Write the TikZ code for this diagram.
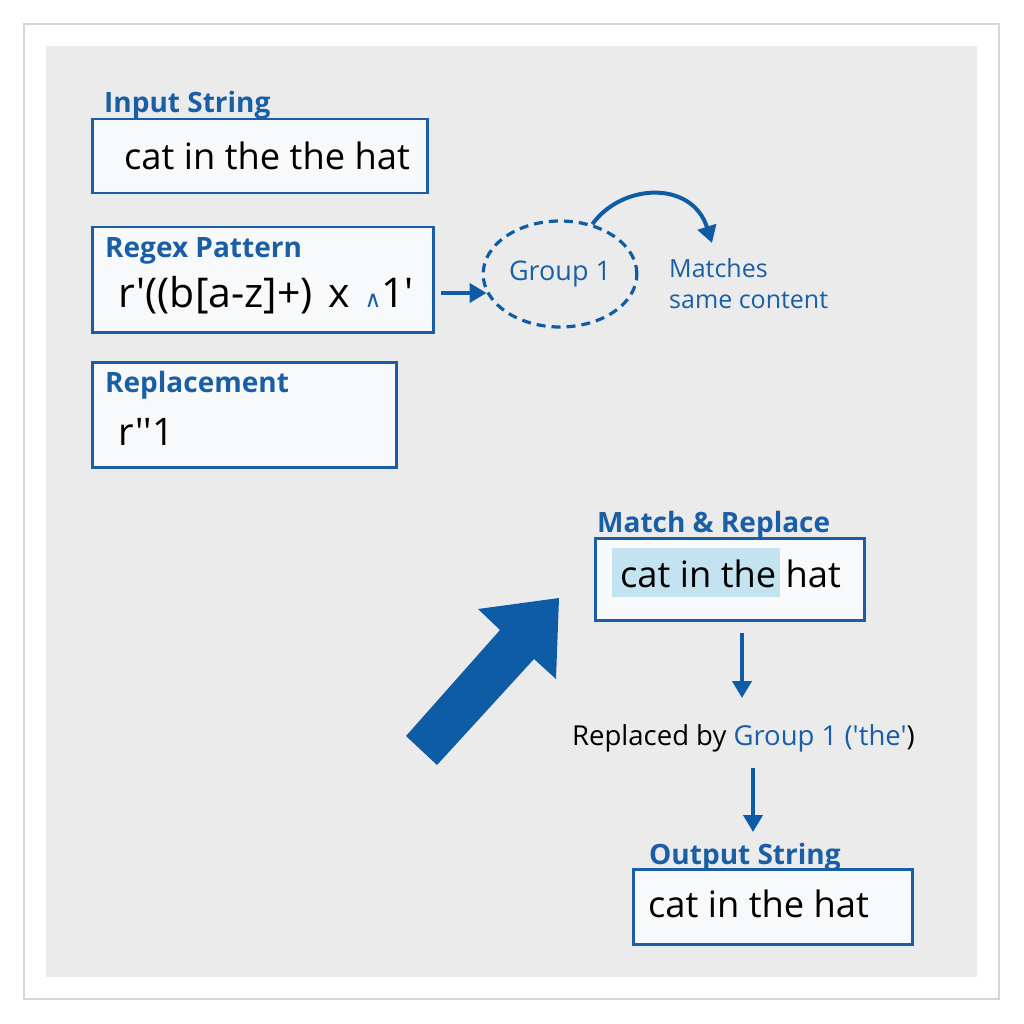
\documentclass[tikz,border=0pt]{standalone}
\usepackage{fontspec}
\newfontfamily\osans{Open Sans}
\newfontfamily\dejavu{DejaVu Sans}
\usetikzlibrary{arrows.meta,shapes.geometric}
\definecolor{tblue}{HTML}{1A5FA6}
\definecolor{ablue}{HTML}{0F5CA6}
\definecolor{panel}{HTML}{EBEBEB}
\definecolor{frame}{HTML}{D6D6D6}
\definecolor{boxfill}{HTML}{F8F9FA}
\definecolor{hl}{HTML}{C4E3F1}
\begin{document}
\begin{tikzpicture}[x=1pt,y=-1pt,
  every node/.style={font=\osans},
  box/.style={draw=tblue,line width=2.5pt,fill=boxfill,anchor=north west,inner sep=0},
  lbl/.style={anchor=base west,inner sep=0,text=tblue,font=\osans\bfseries\fontsize{28}{30}\selectfont},
  val/.style={anchor=base west,inner sep=0,text=black,font=\osans\fontsize{36.3}{40}\selectfont},
  note/.style={anchor=base west,inner sep=0,text=tblue,font=\osans\fontsize{25}{30}\selectfont},
  arr/.style={draw=ablue,line width=4pt,-{Triangle[length=17pt,width=19pt]}}]
\useasboundingbox (0,0) rectangle (1024,1024);
\fill[white] (0,0) rectangle (1024,1024);
\draw[frame,line width=2.5pt,fill=white] (24,24) rectangle (999,999);
\fill[panel] (46,46) rectangle (977,977);

% Input string
\node[box,minimum width=335,minimum height=74] (inbox) at (91,118) {};
\node[lbl] (inlbl) at (104,113) {Input String};
\node[val] (intxt) at (124,170) {cat in the the hat};

% Regex pattern
\node[box,minimum width=341,minimum height=105] (rxbox) at (91,226) {};
\node[lbl] (rxlbl) at (105,257) {Regex Pattern};
\node[val,font=\osans\fontsize{41}{44}\selectfont] (rxtxt) at (118,307) {r'((b[a-z]+)\hspace{5pt} x\hspace{4pt} {\dejavu\fontsize{23}{23}\selectfont\color{tblue}∧}1'};

% Replacement
\node[box,minimum width=304,minimum height=105] (rpbox) at (91,361) {};
\node[lbl] (rplbl) at (105,392) {Replacement};
\node[val,font=\osans\fontsize{38}{42}\selectfont] (rptxt) at (118,445) {r''1};

% Group 1 ellipse
\node[ellipse,draw=ablue,dashed,dash pattern=on 9pt off 6pt,line width=3.2pt,minimum width=152,minimum height=106,text=tblue,font=\osans\fontsize{27}{30}\selectfont] (grp) at (560,274) {Group 1};
\coordinate (rxout) at (441,293);
\draw[arr] (rxout) -- ([xshift=5pt]grp.west |- rxout);

% Matches same content
\node[note] (m1) at (669,277) {Matches};
\node[note] (m2) at (669,308) {same content};
\coordinate (curvend) at (712,243);
\draw[arr] (grp.57) .. controls (622,183) and (692,180) .. (curvend);

% Match & Replace
\node[box,minimum width=269,minimum height=82] (mrbox) at (594,537) {};
\fill[hl] (612,548) rectangle (780,597);
\node[lbl] (mrlbl) at (597,532) {Match \& Replace};
\node[val] (mrtxt) at (620,587) {cat in the hat};

% Replaced by
\node[anchor=base west,inner sep=0,font=\osans\fontsize{27.5}{30}\selectfont] (rep) at (572,745) {Replaced by \textcolor{tblue}{Group 1 ('the'})};
\coordinate (d1a) at (742,633);
\coordinate (d1b) at (742,698);
\draw[arr] (d1a) -- (d1b);
\coordinate (d2a) at (753,768);
\coordinate (d2b) at (753,832);
\draw[arr] (d2a) -- (d2b);

% Output string
\node[box,minimum width=279,minimum height=75] (outbox) at (632,868) {};
\node[lbl] (outlbl) at (649,864) {Output String};
\node[val] (outtxt) at (648,917) {cat in the hat};

% Big block arrow
\fill[ablue] (406,736) -- (500,630) -- (478,609) -- (559,598) -- (556,679) -- (534,659) -- (437,765) -- cycle;
\end{tikzpicture}
\end{document}
